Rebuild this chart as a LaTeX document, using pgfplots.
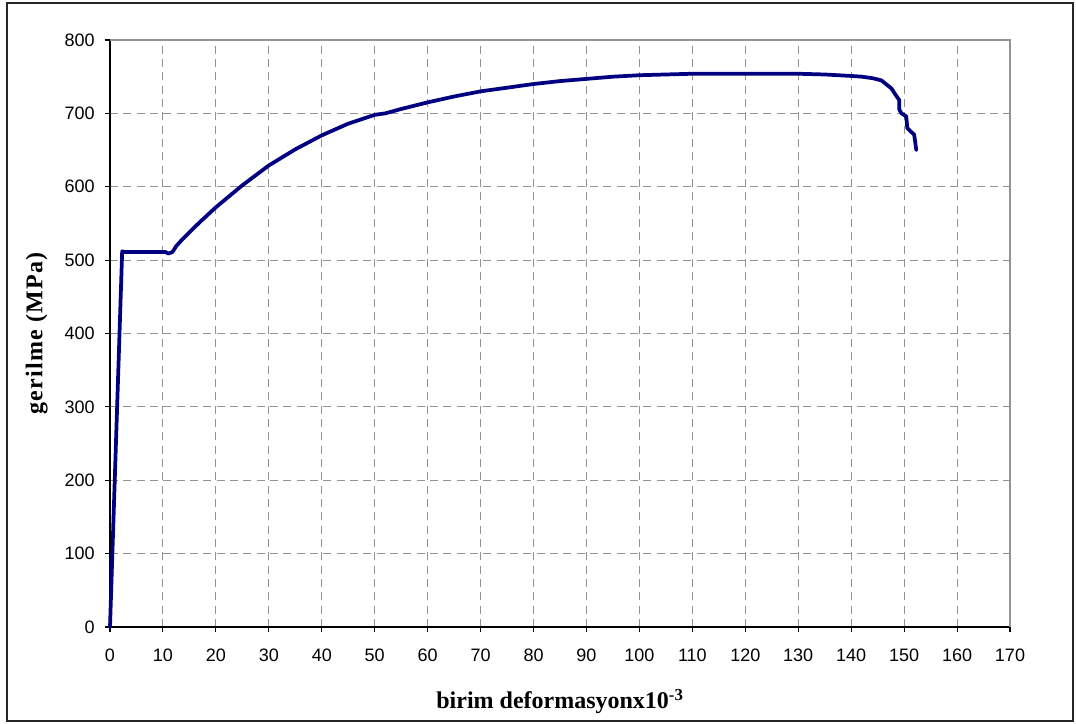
\documentclass[border=0pt]{standalone}
\usepackage{pgfplots}
\pgfplotsset{compat=1.18}
\usepackage{fontspec}
\setmainfont{Liberation Serif}
\newfontfamily\arial{Liberation Sans}
\newfontfamily\spacedserif[LetterSpace=5]{Liberation Serif}
\definecolor{navyline}{RGB}{0,0,128}
\begin{document}
\begin{tikzpicture}
\useasboundingbox (-82.5pt,-72.75pt) rectangle (724.5pt,470.25pt);
\draw[line width=1.4pt, black!85] (-77.25pt,-70.5pt) rectangle (722.25pt,468pt);
\begin{axis}[
  at={(0pt,0pt)}, anchor=south west,
  width=675pt, height=440.25pt, scale only axis,
  xmin=0, xmax=170, ymin=0, ymax=800,
  xtick={0,10,...,170}, ytick={0,100,...,800},
  axis lines*=left, axis line style={-, black, line width=0.8pt},
  tick align=outside, major tick length=4pt,
  tick style={black, line width=0.8pt},
  grid=major,
  major grid style={gray!85, dash pattern=on 6pt off 4pt, line width=0.7pt},
  tick label style={font=\arial\fontsize{13.5}{16}\selectfont},
  /pgf/number format/assume math mode=true,
  xticklabel shift=9pt, yticklabel shift=4pt,
  xlabel={birim deformasyonx10\textsuperscript{-3}},
  ylabel={gerilme (MPa)},
  xlabel style={font=\bfseries\fontsize{18}{20}\selectfont, at={(axis description cs:0.5,0)}, anchor=center, yshift=-56pt},
  ylabel style={font=\spacedserif\bfseries\fontsize{18}{20}\selectfont, at={(axis description cs:0,0.5)}, anchor=center, yshift=55pt},
  clip=false,
]
\draw[gray!85, line width=0.8pt] (rel axis cs:0,1) -- (rel axis cs:1,1) -- (rel axis cs:1,0);
\addplot[navyline, line width=2.8pt, line join=round, line cap=round] coordinates {
(0,0) (2.3,512) (2.8,511) (10.5,511) (11.0,509) (11.8,511) (12.5,519) (13.5,527)
(15,538) (17,552) (20,572) (25,602) (30,629) (35,651) (40,670) (45,686)
(50,698) (52,700) (55,706) (60,715) (65,723) (70,730) (75,735) (80,740)
(85,744) (90,747) (95,750) (100,752) (105,753) (110,754) (120,754) (130,754)
(135,753) (140,751) (142,750) (144,748) (145.7,745) (147.6,734) (148.6,723)
(149.1,718) (149.1,705) (149.5,700) (150.4,696) (150.6,680) (151.3,675)
(151.9,671) (152.3,650)
};
\end{axis}
\end{tikzpicture}
\end{document}
